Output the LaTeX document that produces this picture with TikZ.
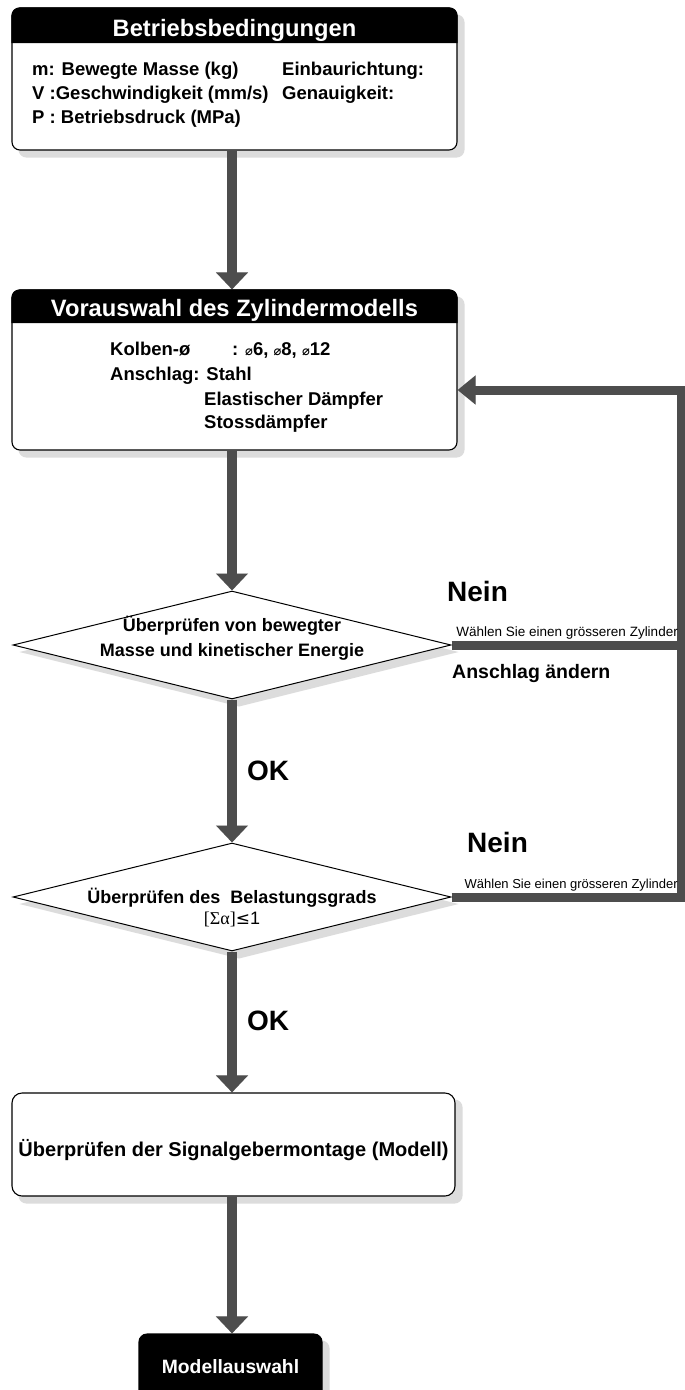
\documentclass[tikz,border=0pt]{standalone}
\usepackage{fontspec}
\setmainfont{Liberation Sans}
\newfontfamily\djv{DejaVu Sans}
\newfontfamily\tnr{Liberation Serif}
\usetikzlibrary{arrows.meta,shapes.geometric}
\definecolor{arr}{HTML}{4D4D4D}
\definecolor{shd}{HTML}{DCDCDC}
\pgfdeclarelayer{shadowlayer}
\pgfdeclarelayer{arrowlayer}
\pgfsetlayers{shadowlayer,arrowlayer,main}
\newcommand{\fs}[1]{\fontsize{#1}{#1}\selectfont}
\newcommand{\dia}{{\djv\fs{13}⌀}}
\tikzset{
  box/.style={draw=black,line width=1.1pt,fill=white,rounded corners=8pt,inner sep=0pt},
  dia/.style={diamond,draw=black,line width=1pt,fill=white,inner sep=0pt,minimum width=438,minimum height=108},
  title/.style={text=white,font=\bfseries\fs{23.7},inner sep=0pt,anchor=base},
  body/.style={font=\bfseries\fs{18.5},inner sep=0pt,anchor=base west},
  dtext/.style={font=\bfseries\fs{18},inner sep=0pt,anchor=base},
  big/.style={font=\bfseries\fs{28},inner sep=0pt,anchor=base west},
  small/.style={font=\fs{13.5},inner sep=0pt,anchor=base east},
  flow/.style={draw=arr,line width=10pt,-{Triangle[width=31pt,length=17pt]}},
  flowshd/.style={draw=shd,line width=10pt,-{Triangle[width=31pt,length=17pt]}},
  fb/.style={draw=arr,line width=9pt,line join=miter},
  fbshd/.style={draw=shd,line width=9pt,line join=miter},
  fbarrow/.style={draw=arr,line width=9pt,line join=miter,-{Triangle[width=28pt,length=18pt]}},
  fbarrowshd/.style={draw=shd,line width=9pt,line join=miter,-{Triangle[width=28pt,length=18pt]}},
}
\begin{document}
\begin{tikzpicture}[x=1pt,y=-1pt]
\begin{pgfonlayer}{shadowlayer}
\fill[white] (0,0) rectangle (685,1390);
\end{pgfonlayer}
\useasboundingbox (0,0) rectangle (685,1390);
\coordinate (ax) at (232,0);
\coordinate (fr) at (681,0);
\coordinate (fa) at (0,390);
\coordinate (h1) at (0,43);
\coordinate (h2) at (0,323);

% boxes
\node[box,minimum width=445,minimum height=142] (b1) at (234.5,79) {};
\fill[black] (b1.west |- h1) [rounded corners=8pt] -- (b1.north west) -- (b1.north east) [sharp corners] -- (b1.east |- h1) -- cycle;
\node[title] (t1) at (234.5,36) {Betriebsbedingungen};
\node[body] (l11) at (32,75) {m: Bewegte Masse (kg)};
\node[body] (l12) at (32,99) {V :Geschwindigkeit (mm/s)};
\node[body] (l13) at (32,123) {P : Betriebsdruck (MPa)};
\node[body] (r11) at (282,75) {Einbaurichtung:};
\node[body] (r12) at (282,99) {Genauigkeit:};

\node[box,minimum width=445,minimum height=160] (b2) at (234.5,370) {};
\fill[black] (b2.west |- h2) [rounded corners=8pt] -- (b2.north west) -- (b2.north east) [sharp corners] -- (b2.east |- h2) -- cycle;
\node[title] (t2) at (234.5,316) {Vorauswahl des Zylindermodells};
\node[body] (k1) at (110,355) {Kolben-ø};
\node[body] (k2) at (232,355) {: \dia6, \dia8, \dia12};
\node[body] (k3) at (110,380) {Anschlag: Stahl};
\node[body] (k4) at (204,405) {Elastischer Dämpfer};
\node[body] (k5) at (204,428) {Stossdämpfer};

\node[dia] (d1) at (232,645) {};
\node[dtext] (d1a) at (232,631) {Überprüfen von bewegter};
\node[dtext] (d1b) at (232,656) {Masse und kinetischer Energie};

\node[dia] (d2) at (232,897) {};
\node[dtext] (d2a) at (232,903) {Überprüfen des\ \ Belastungsgrads};
\node[inner sep=0pt,anchor=base,font=\fs{18}] (d2b) at (232,924) {{\tnr[Σα]}{\djv\fs{17}≤}1};

\node[box,rounded corners=10pt,minimum width=443,minimum height=103] (b4) at (233.5,1144.5) {};
\node[inner sep=0pt,anchor=base,font=\bfseries\fs{20}] (t4) at (233.5,1156) {Überprüfen der Signalgebermontage (Modell)};

\node[box,fill=black,minimum width=183,minimum height=64] (b5) at (230.5,1366) {};
\node[inner sep=0pt,anchor=base,text=white,font=\bfseries\fs{19.3}] (t5) at (230.5,1373) {Modellauswahl};

% labels
\node[big] (n1) at (447,601) {Nein};
\node[small] (w1) at (678,636) {Wählen Sie einen grösseren Zylinder};
\node[body,font=\bfseries\fs{19.5}] (a1) at (452,678) {Anschlag ändern};
\node[big] (ok1) at (247,780) {OK};
\node[big] (n2) at (467,852) {Nein};
\node[small,font=\fs{13}] (w2) at (678,888) {Wählen Sie einen grösseren Zylinder};
\node[big] (ok2) at (247,1030) {OK};

% shadows
\begin{pgfonlayer}{shadowlayer}
\foreach \b in {b1,b2,b4,b5}{
  \fill[shd,rounded corners=8pt] ([shift={(7,7)}]\b.north west) rectangle ([shift={(7,7)}]\b.south east);
}
\foreach \d in {d1,d2}{
  \fill[shd] ([shift={(7,7)}]\d.north) -- ([shift={(7,7)}]\d.east) -- ([shift={(7,7)}]\d.south) -- ([shift={(7,7)}]\d.west) -- cycle;
}
\begin{scope}[shift={(8,7)}]
\draw[flowshd] (b1.south -| ax) -- (b2.north -| ax);
\draw[flowshd] (b2.south -| ax) -- (d1.north);
\draw[flowshd] (d1.south) -- (d2.north);
\draw[flowshd] (d2.south) -- (b4.north -| ax);
\draw[flowshd] (b4.south -| ax) -- (b5.north -| ax);
\draw[fbshd] (d1.east) -- (d1.east -| fr);
\draw[fbarrowshd] (d2.east) -- (d2.east -| fr) -- (fr |- fa) -- (b2.east |- fa);
\end{scope}
\end{pgfonlayer}

% arrows
\begin{pgfonlayer}{arrowlayer}
\draw[flow] (b1.south -| ax) -- (b2.north -| ax);
\draw[flow] (b2.south -| ax) -- (d1.north);
\draw[flow] (d1.south) -- (d2.north);
\draw[flow] (d2.south) -- (b4.north -| ax);
\draw[flow] (b4.south -| ax) -- (b5.north -| ax);
\draw[fb] (d1.east) -- (d1.east -| fr);
\draw[fbarrow] (d2.east) -- (d2.east -| fr) -- (fr |- fa) -- (b2.east |- fa);
\end{pgfonlayer}
\end{tikzpicture}
\end{document}
